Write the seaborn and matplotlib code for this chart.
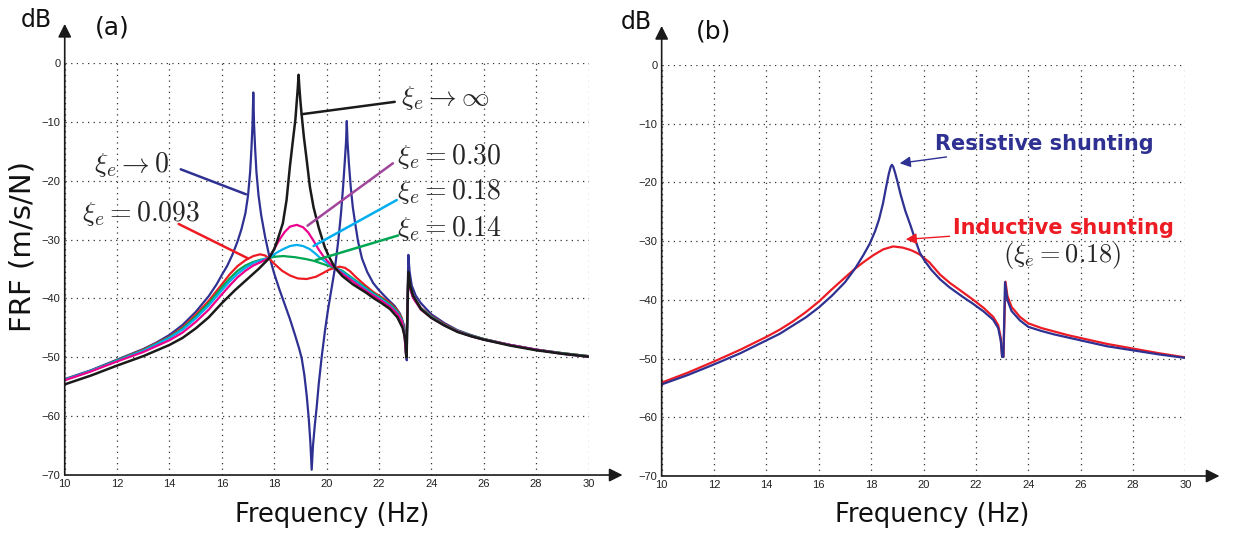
import numpy as np
import pandas as pd
import matplotlib
matplotlib.use("Agg")
import matplotlib.pyplot as plt
import seaborn as sns

# ---- panel (a): FRF for several electrical damping ratios ----
f_blue = [10, 11, 12, 13, 13.5, 14, 14.5, 15, 15.5, 15.8, 16.0, 16.2, 16.4, 16.6, 16.75, 16.9, 17.0,
          17.08, 17.13, 17.17, 17.2, 17.23, 17.27, 17.32, 17.4, 17.5, 17.65, 17.8, 18.0, 18.2, 18.4,
          18.6, 18.8, 18.95, 19.05, 19.15, 19.24, 19.32, 19.38, 19.43, 19.48, 19.55, 19.62, 19.7,
          19.81, 19.94, 20.05, 20.2, 20.32, 20.45, 20.55, 20.63, 20.69, 20.74, 20.77, 20.8, 20.85,
          20.92, 21.0, 21.1, 21.2, 21.35, 21.55, 21.78, 22.0, 22.3, 22.6, 22.8, 22.95, 23.02, 23.06,
          23.12, 23.17, 23.25, 23.4, 23.6, 24.0, 24.5, 25, 25.5, 26, 27, 28, 29, 30]
db_blue = [-53.7, -52.2, -50.4, -48.6, -47.5, -46.2, -44.5, -42.3, -39.6, -37.6, -36.0, -34.5, -32.6,
           -30.3, -28.2, -25.5, -22.5, -18.5, -14.5, -10.5, -5.0, -10.5, -14.5, -18.5, -22.5, -25.8,
           -29.5, -32.6, -35.8, -38.5, -41.0, -43.5, -46.3, -48.5, -50.2, -53.0, -56.5, -60.5, -64.5,
           -69.1, -65.0, -61.5, -58.5, -54.5, -50.0, -45.4, -42.0, -38.0, -34.8, -30.0, -25.5, -21.0,
           -17.0, -13.5, -9.85, -13.5, -17.0, -21.0, -24.5, -27.5, -30.3, -33.2, -35.5, -37.4, -38.6,
           -40.0, -41.3, -42.6, -44.5, -47.0, -50.5, -32.6, -35.5, -37.8, -39.5, -40.8, -42.7, -44.2,
           -45.4, -46.2, -46.9, -47.9, -48.7, -49.3, -49.8]

f_black = [10, 11, 12, 13, 14, 14.5, 15, 15.5, 16, 16.5, 17.0, 17.4, 17.8, 18.0, 18.13, 18.33, 18.47,
           18.6, 18.73, 18.81, 18.86, 18.9, 18.93, 18.96, 19.0, 19.04, 19.13, 19.24, 19.36, 19.5, 19.7,
           19.93, 20.1, 20.32, 20.6, 21.0, 21.5, 21.78, 22.1, 22.42, 22.7, 22.9, 23.0, 23.05, 23.12,
           23.2, 23.3, 23.6, 24.0, 24.5, 25, 25.5, 26, 27, 28, 29, 30]
db_black = [-54.6, -53.1, -51.4, -49.8, -47.9, -46.7, -45.1, -43.2, -40.8, -38.6, -36.6, -35.0, -33.2,
            -31.6, -30.0, -27.2, -23.3, -17.5, -12.5, -9.5, -6.5, -4.2, -2.0, -4.2, -6.5, -8.5, -12.5,
            -16.5, -21.0, -24.5, -28.0, -31.3, -33.0, -34.8, -36.2, -37.6, -39.0, -39.9, -40.8, -41.8,
            -43.2, -45.0, -46.8, -50.0, -35.5, -38.0, -39.5, -41.8, -43.3, -44.6, -45.7, -46.4, -47.0,
            -48.0, -48.8, -49.4, -49.9]

f_red = [10, 11, 12, 13, 14, 14.5, 15, 15.5, 16, 16.3, 16.6, 16.9, 17.2, 17.46, 17.65, 17.8, 18.0,
         18.3, 18.6, 18.9, 19.24, 19.6, 19.9, 20.1, 20.32, 20.5, 20.7, 20.9, 21.1, 21.4, 21.78, 22.1,
         22.42, 22.7, 22.87, 22.97, 23.04, 23.12, 23.2, 23.3, 23.6, 24.0, 24.5, 25, 25.5, 26, 27, 28,
         29, 30]
db_red = [-53.8, -52.3, -50.5, -48.7, -46.5, -44.9, -42.8, -40.4, -37.6, -35.9, -34.5, -33.5, -32.8,
          -32.5, -32.7, -33.2, -34.1, -35.3, -36.1, -36.6, -36.7, -36.3, -35.6, -35.1, -34.8, -34.6,
          -34.8, -35.4, -36.3, -37.5, -38.9, -39.8, -40.8, -42.0, -43.3, -45.5, -50.0, -35.6, -38.2,
          -39.6, -41.6, -43.0, -44.4, -45.5, -46.3, -46.9, -47.9, -48.7, -49.3, -49.8]

f_green = [10, 11, 12, 13, 14, 14.5, 15, 15.5, 16, 16.3, 16.6, 16.9, 17.2, 17.5, 17.8, 18.05, 18.35,
           18.8, 19.2, 19.5, 19.9, 20.1, 20.32, 20.6, 21.0, 21.4, 21.78, 22.1, 22.42, 22.7, 22.87,
           22.97, 23.04, 23.12, 23.2, 23.3, 23.6, 24.0, 24.5, 25, 25.5, 26, 27, 28, 29, 30]
db_green = [-53.8, -52.3, -50.5, -48.8, -46.6, -45.1, -43.1, -40.8, -38.1, -36.6, -35.3, -34.4, -33.8,
            -33.4, -33.1, -32.9, -32.8, -33.0, -33.3, -33.6, -34.2, -34.5, -34.8, -35.3, -36.6, -37.9,
            -39.1, -40.0, -41.0, -42.2, -43.5, -45.7, -50.0, -35.7, -38.3, -39.7, -41.7, -43.1, -44.5,
            -45.5, -46.3, -46.9, -47.9, -48.7, -49.3, -49.8]

f_cyan = [10, 11, 12, 13, 14, 14.5, 15, 15.5, 16, 16.3, 16.6, 16.9, 17.2, 17.5, 17.8, 18.1, 18.35,
          18.6, 18.86, 19.1, 19.35, 19.55, 19.75, 20.0, 20.32, 20.6, 21.0, 21.4, 21.78, 22.1, 22.42,
          22.7, 22.87, 22.97, 23.04, 23.12, 23.2, 23.3, 23.6, 24.0, 24.5, 25, 25.5, 26, 27, 28, 29, 30]
db_cyan = [-53.8, -52.3, -50.6, -48.9, -46.7, -45.3, -43.4, -41.2, -38.6, -37.1, -35.8, -34.8, -34.0,
           -33.5, -33.1, -32.2, -31.6, -31.1, -30.9, -31.1, -31.6, -32.3, -33.1, -33.9, -34.8, -35.5,
           -36.8, -38.1, -39.3, -40.2, -41.2, -42.4, -43.7, -46.0, -50.0, -35.8, -38.4, -39.8, -41.8,
           -43.2, -44.6, -45.6, -46.4, -47.0, -47.9, -48.7, -49.4, -49.9]

f_mag = [10, 11, 12, 13, 14, 14.5, 15, 15.5, 16, 16.3, 16.6, 16.9, 17.2, 17.5, 17.8, 18.0, 18.2, 18.4,
         18.6, 18.86, 19.1, 19.3, 19.5, 19.7, 19.87, 20.1, 20.32, 20.6, 21.0, 21.4, 21.78, 22.1, 22.42,
         22.7, 22.87, 22.97, 23.04, 23.12, 23.2, 23.3, 23.6, 24.0, 24.5, 25, 25.5, 26, 27, 28, 29, 30]
db_mag = [-53.9, -52.4, -50.7, -49.1, -47.1, -45.8, -44.0, -41.9, -39.3, -37.8, -36.4, -35.3, -34.4,
          -33.8, -33.1, -31.6, -30.0, -28.7, -27.8, -27.5, -27.9, -28.8, -30.2, -31.7, -32.8, -34.0,
          -34.8, -35.8, -37.1, -38.4, -39.5, -40.4, -41.4, -42.6, -43.9, -46.2, -50.0, -35.9, -38.5,
          -39.9, -41.9, -43.3, -44.6, -45.6, -46.4, -47.0, -47.9, -48.7, -49.4, -49.9]

# ---- panel (b): resistive vs inductive shunting ----
f_res = [10, 11, 12, 13, 14, 14.5, 15, 15.5, 16, 16.5, 17.0, 17.38, 17.7, 17.95, 18.15, 18.3, 18.45,
         18.57, 18.67, 18.74, 18.79, 18.84, 18.91, 19.0, 19.12, 19.3, 19.5, 19.7, 19.86, 20.05, 20.3,
         20.63, 21.0, 21.5, 21.9, 22.3, 22.66, 22.85, 22.95, 23.0, 23.05, 23.11, 23.2, 23.36, 23.68,
         24.0, 24.5, 25, 25.5, 26, 27, 28, 29, 30]
db_res = [-54.4, -52.8, -51.0, -49.1, -46.9, -45.8, -44.4, -43.0, -41.3, -39.3, -37.0, -34.7, -32.4,
          -30.4, -28.3, -26.3, -23.6, -20.8, -18.6, -17.4, -17.0, -17.3, -18.3, -19.8, -22.0, -24.8,
          -27.3, -30.0, -32.0, -33.4, -34.9, -36.5, -37.9, -39.5, -40.7, -42.0, -43.4, -44.8, -47.0,
          -49.7, -49.7, -37.0, -40.0, -41.9, -43.5, -44.6, -45.3, -45.9, -46.4, -46.9, -47.9, -48.6,
          -49.3, -49.9]

f_ind = [10, 11, 12, 13, 14, 14.5, 15, 15.5, 16, 16.5, 17.0, 17.38, 17.7, 18.08, 18.46, 18.84, 19.2,
         19.5, 19.7, 19.86, 20.22, 20.63, 21.0, 21.5, 21.9, 22.3, 22.66, 22.85, 22.95, 23.0, 23.05,
         23.13, 23.2, 23.36, 23.68, 24.0, 24.5, 25, 25.5, 26, 27, 28, 29, 30]
db_ind = [-54.1, -52.4, -50.5, -48.5, -46.3, -45.1, -43.7, -42.1, -40.3, -38.2, -36.2, -34.7, -33.6,
          -32.4, -31.4, -30.9, -31.1, -31.5, -31.9, -32.3, -33.6, -35.7, -37.1, -38.7, -40.0, -41.4,
          -42.9, -44.3, -46.5, -49.7, -49.7, -36.9, -39.3, -41.2, -42.9, -44.0, -44.8, -45.4, -46.0,
          -46.5, -47.5, -48.3, -49.1, -49.8]

xticks = list(range(10, 31, 2))
yticks = list(range(-70, 1, 10))

sns.set_theme(style="white")
plt.rcParams['font.family'] = ['DejaVu Sans']
plt.rcParams['mathtext.fontset'] = 'cm'

fig = plt.figure(figsize=(12.4, 5.39), dpi=100)
axA = fig.add_axes([0.0522, 0.1187, 0.4224, 0.7644])
axB = fig.add_axes([0.5336, 0.1169, 0.4224, 0.7625])


def style_axes(ax):
    ax.set_xlim(10, 30)
    ax.set_ylim(-70, 0)
    ax.set_xticks(xticks)
    ax.set_yticks(yticks)
    ax.grid(True, linestyle=(0, (1, 3.5)), color='#333333', lw=0.9)
    for s in ax.spines.values():
        s.set_visible(False)
    ax.tick_params(direction='in', length=4, width=0.8, color='#555555', labelsize=8,
                   pad=3, labelcolor='#222222')
    for lab in ax.get_xticklabels() + ax.get_yticklabels():
        lab.set_family('Liberation Sans')
    ax.set_xlabel('')
    ax.set_ylabel('')
    arr = dict(arrowstyle='-|>', color='#1a1a1a', lw=1.2, mutation_scale=20,
               shrinkA=0, shrinkB=0)
    ax.annotate('', xy=(0, 1.095), xytext=(0, 0), xycoords='axes fraction',
                arrowprops=arr, annotation_clip=False)
    ax.annotate('', xy=(1.065, 0), xytext=(0, 0), xycoords='axes fraction',
                arrowprops=arr, annotation_clip=False)


def curve(ax, f, db, color, lw=1.6):
    sns.lineplot(x=f, y=db, ax=ax, color=color, lw=lw, sort=False, estimator=None)


blue = '#2E3192'
red = '#ED1C24'
green = '#00A651'
cyan = '#00AEEF'
mag = '#EC008C'
black = '#1a1a1a'

curve(axA, f_blue, db_blue, blue)
curve(axA, f_red, db_red, red)
curve(axA, f_green, db_green, green)
curve(axA, f_cyan, db_cyan, cyan)
curve(axA, f_mag, db_mag, mag)
curve(axA, f_black, db_black, black, lw=1.8)
style_axes(axA)

curve(axB, f_ind, db_ind, red)
curve(axB, f_res, db_res, blue)
style_axes(axB)

# ---- annotations panel (a) ----
mfs = 20
lead = dict(arrowstyle='-', lw=1.8, shrinkA=0, shrinkB=0)
axA.annotate('', xy=(19.05, -8.7), xytext=(22.6, -6.6), arrowprops=dict(lead, color=black),
             annotation_clip=False)
axA.text(22.85, -6.0, r'$\xi_e \rightarrow \infty$', fontsize=mfs, va='center', ha='left')

axA.annotate('', xy=(16.92, -22.3), xytext=(14.43, -18.06), arrowprops=dict(lead, color=blue))
axA.text(14.0, -17.2, r'$\xi_e \rightarrow 0$', fontsize=mfs, va='center', ha='right')

axA.annotate('', xy=(17.0, -33.2), xytext=(14.35, -27.35), arrowprops=dict(lead, color=red))
axA.text(12.92, -25.5, r'$\xi_e = 0.093$', fontsize=mfs, va='center', ha='center')

axA.annotate('', xy=(19.27, -27.64), xytext=(22.53, -17.04), arrowprops=dict(lead, color='#A0469B'))
axA.text(22.7, -15.8, r'$\xi_e = 0.30$', fontsize=mfs, va='center', ha='left')

axA.annotate('', xy=(19.5, -31.1), xytext=(22.68, -23.28), arrowprops=dict(lead, color=cyan))
axA.text(22.7, -21.9, r'$\xi_e = 0.18$', fontsize=mfs, va='center', ha='left')

axA.annotate('', xy=(19.58, -33.5), xytext=(22.73, -29.3), arrowprops=dict(lead, color=green))
axA.text(22.7, -28.2, r'$\xi_e = 0.14$', fontsize=mfs, va='center', ha='left')

# ---- annotations panel (b) ----
axB.annotate('Resistive shunting', xy=(19.09, -16.74), xytext=(20.45, -13.4),
             color=blue, fontsize=15, fontweight='bold', va='center', ha='left',
             arrowprops=dict(arrowstyle='-|>', color=blue, lw=1.0, mutation_scale=16,
                             shrinkA=0, shrinkB=0))
axB.annotate('Inductive shunting', xy=(19.32, -29.7), xytext=(21.12, -27.8),
             color=red, fontsize=15, fontweight='bold', va='center', ha='left',
             arrowprops=dict(arrowstyle='-|>', color=red, lw=1.0, mutation_scale=16,
                             shrinkA=0, shrinkB=0))
axB.text(25.28, -32.4, r'$(\xi_e = 0.18)$', fontsize=mfs - 1, va='center', ha='center')

# ---- frame texts ----
W, H = 1240.0, 539.0
def ftext(x, y, s, **kw):
    fig.text(x / W, 1 - y / H, s, ha='center', va='center', **kw)

ftext(36, 20, 'dB', fontsize=17, color='#111111')
ftext(112, 28, '(a)', fontsize=18, color='#111111')
ftext(636, 22, 'dB', fontsize=17, color='#111111')
ftext(714, 32, '(b)', fontsize=18, color='#111111')
ftext(332, 515, 'Frequency (Hz)', fontsize=18.5, color='#111111')
ftext(932, 515, 'Frequency (Hz)', fontsize=18.5, color='#111111')
ftext(23, 246, 'FRF (m/s/N)', fontsize=21, rotation=90, color='#111111')

fig.savefig('out.png', dpi=100, facecolor='w')
